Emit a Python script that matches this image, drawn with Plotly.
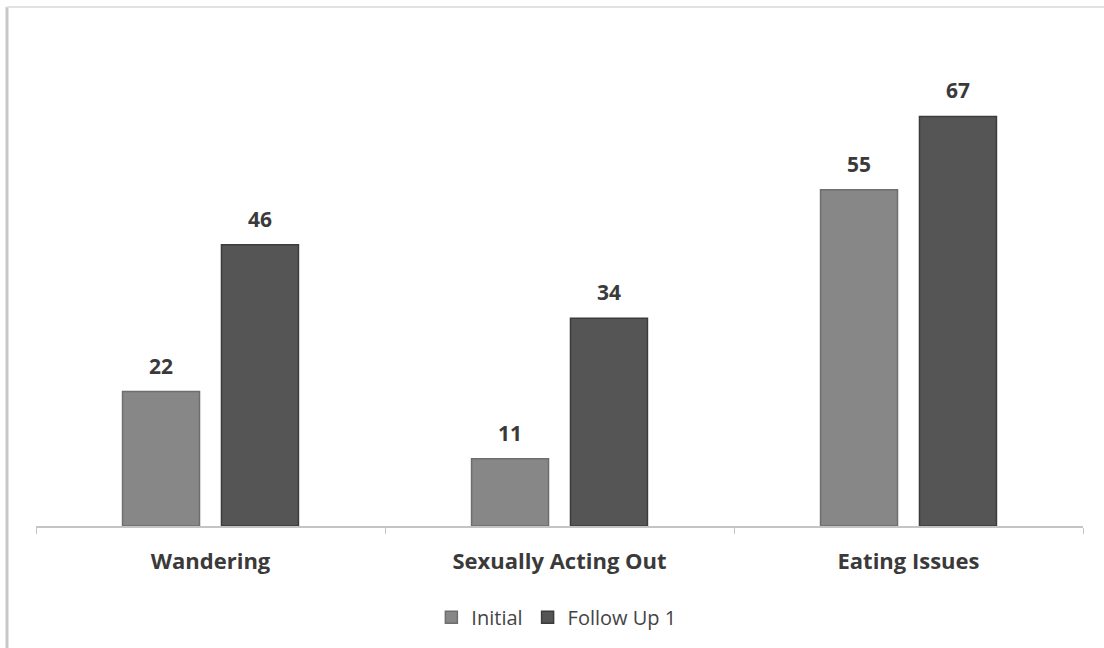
import plotly.graph_objects as go

categories = ["Wandering", "Sexually Acting Out", "Eating Issues"]
initial = [22, 11, 55]
follow_up_1 = [46, 34, 67]
series_names = ["Initial", "Follow Up 1"]

FONT = "'Open Sans', sans-serif"
TEXT = "#3a3a3a"

fig = go.Figure()
fig.add_trace(go.Bar(
    x=categories, y=initial, name=series_names[0],
    marker=dict(color="#878787", line=dict(color="#6e6e6e", width=1.5)),
))
fig.add_trace(go.Bar(
    x=categories, y=follow_up_1, name=series_names[1],
    marker=dict(color="#555555", line=dict(color="#3c3c3c", width=1.5)),
))

# value labels above each bar
annotations = []
for i, cat in enumerate(categories):
    for j, vals in enumerate([initial, follow_up_1]):
        annotations.append(dict(
            x=cat, y=vals[i], xref="x", yref="y",
            text=f"<b>{vals[i]}</b>", showarrow=False,
            xshift=-49.5 if j == 0 else 49.5, yshift=26,
            yanchor="middle",
            font=dict(family=FONT, size=21, color=TEXT),
        ))

# outer frame lines (left and top edges)
shapes = [
    dict(type="line", xref="paper", yref="paper", x0=-0.0277, x1=-0.0277,
         y0=1.0612, y1=-0.25, line=dict(color="#c8c8c8", width=3)),
    dict(type="line", xref="paper", yref="paper", x0=-0.0277, x1=1.03,
         y0=1.0612, y1=1.0612, line=dict(color="#e2e2e2", width=2)),
]

fig.update_layout(
    width=1104, height=648,
    margin=dict(l=36, r=21, t=37, b=121),
    paper_bgcolor="white", plot_bgcolor="white",
    barmode="group", bargap=0.433, bargroupgap=0.222,
    font=dict(family=FONT, color=TEXT),
    showlegend=True,
    legend=dict(orientation="h", x=0.497, xanchor="center", y=-0.184,
                yanchor="middle", font=dict(family=FONT, size=20, color="#444444"),
                itemwidth=30, tracegroupgap=0),
    annotations=annotations,
    shapes=shapes,
)
fig.update_xaxes(
    showline=True, linecolor="#c4c4c4", linewidth=2,
    ticks="outside", tickson="boundaries", ticklen=6, tickcolor="#c4c4c4",
    tickfont=dict(family=FONT, size=22, color=TEXT, weight="bold"),
    ticklabelstandoff=15, showgrid=False,
)
fig.update_yaxes(range=[0, 80], visible=False, showgrid=False)

fig.write_html("out.html")
